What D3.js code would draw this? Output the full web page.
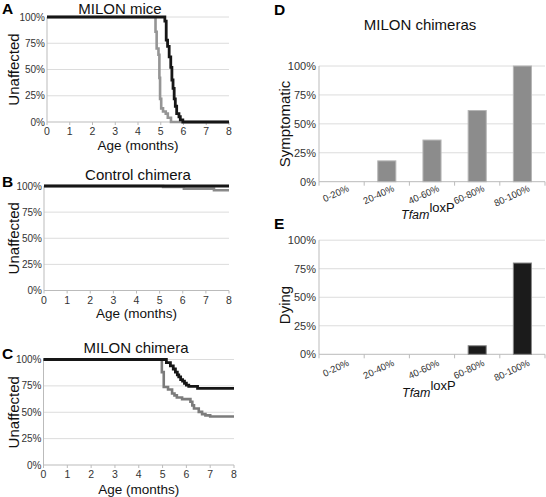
<!DOCTYPE html>
<html><head><meta charset="utf-8">
<script src="https://cdn.jsdelivr.net/npm/d3@7"></script>
<style>
body{margin:0;background:#fff;}
svg{display:block;font-family:"Liberation Sans",Arial,sans-serif;}
</style></head>
<body>
<svg id="chart" width="546" height="497"></svg>
<script>
// ---------- data ----------
const months = [0,1,2,3,4,5,6,7,8];
const pctTicks = [0,0.25,0.5,0.75,1];
const pctLabels = ["0%","25%","50%","75%","100%"];

// Panel A: MILON mice  [month, fraction unaffected]
const miceBlack = [[0,1],[5.18,0.96],[5.24,0.78],[5.3,0.72],[5.37,0.62],[5.44,0.52],[5.49,0.4],[5.54,0.32],[5.59,0.22],[5.64,0.15],[5.7,0.08],[5.8,0.05],[5.86,0.02],[5.97,0],[8,0]];
const miceGrey  = [[0,1],[4.77,0.86],[4.82,0.7],[4.9,0.64],[4.94,0.42],[4.97,0.22],[5.02,0.13],[5.1,0.1],[5.22,0.08],[5.31,0.04],[5.45,0],[8,0]];
// Panel B: Control chimera
const ctrlBlack = [[0,1],[8,1]];
const ctrlGrey  = [[0,1],[5.15,0.99],[6.05,0.975],[7.35,0.96],[8,0.96]];
// Panel C: MILON chimera
const chimBlack = [[0,1],[5.16,0.97],[5.33,0.94],[5.45,0.91],[5.54,0.88],[5.62,0.855],[5.68,0.835],[5.76,0.81],[5.84,0.795],[5.92,0.775],[6.0,0.757],[6.1,0.745],[6.47,0.726],[8,0.726]];
const chimGrey  = [[0,1],[4.97,0.88],[5.05,0.74],[5.23,0.716],[5.4,0.678],[5.5,0.66],[5.6,0.64],[5.82,0.624],[6.17,0.6],[6.25,0.565],[6.32,0.536],[6.52,0.504],[6.66,0.482],[6.8,0.47],[7.0,0.46],[8,0.46]];

// Panels D/E
const categories = ["0-20%","20-40%","40-60%","60-80%","80-100%"];
const symptomatic = [0,18,36,61.5,100];
const dying = [0,0,0,7.5,80];

// ---------- drawing ----------
const svg = d3.select("#chart");
const GRID = "#dcdcdc", TXT = "#333";

function linePanel(o){
  const g = svg.append("g");
  const x = d3.scaleLinear().domain([0,8]).range([o.x0,o.x1]);
  const y = d3.scaleLinear().domain([0,1]).range([o.y0,o.y1]);
  g.selectAll(".grid").data(pctTicks.slice(1)).join("line")
    .attr("x1",o.x0).attr("x2",o.x1).attr("y1",d=>y(d)).attr("y2",d=>y(d))
    .attr("stroke",GRID).attr("stroke-width",1);
  g.append("line").attr("x1",o.x0).attr("x2",o.x0).attr("y1",y(0)).attr("y2",y(1)).attr("stroke","#bbb");
  g.append("line").attr("x1",o.x0).attr("x2",o.x1).attr("y1",y(0)).attr("y2",y(0)).attr("stroke","#bbb");
  g.selectAll(".xt").data(months).join("line")
    .attr("x1",d=>x(d)).attr("x2",d=>x(d)).attr("y1",y(0)).attr("y2",y(0)+3).attr("stroke","#bbb");
  g.selectAll(".yl").data(pctTicks).join("text")
    .attr("x",o.x0-2).attr("y",d=>y(d)).attr("dy","0.35em")
    .attr("text-anchor","end").attr("font-size",10).attr("fill",TXT)
    .text((d,i)=>pctLabels[i]);
  g.selectAll(".xl").data(months).join("text")
    .attr("x",d=>x(d)).attr("y",y(0)+13).attr("text-anchor","middle")
    .attr("font-size",10.5).attr("fill",TXT).text(d=>d);
  const line = d3.line().x(d=>x(d[0])).y(d=>y(d[1])).curve(d3.curveStepAfter);
  g.append("path").datum(o.grey).attr("d",line).attr("fill","none")
    .attr("stroke",o.greyColor).attr("stroke-width",2.6);
  g.append("path").datum(o.black).attr("d",line).attr("fill","none")
    .attr("stroke","#161616").attr("stroke-width",o.bw||2.8);
  g.append("text").attr("x",o.tx).attr("y",o.ty).attr("text-anchor","middle")
    .attr("font-size",15).attr("fill","#111").text(o.title);
  g.append("text").attr("x",(o.x0+o.x1)/2).attr("y",o.ay).attr("text-anchor","middle")
    .attr("font-size",13.5).attr("fill","#111").text("Age (months)");
  g.append("text").attr("transform",`translate(${o.lx},${(o.y0+o.y1)/2}) rotate(-90)`)
    .attr("text-anchor","middle").attr("font-size",15).attr("fill","#111").text("Unaffected");
  g.append("text").attr("x",2).attr("y",o.py).attr("font-size",15.5).attr("font-weight","bold")
    .attr("fill","#000").text(o.letter);
}

linePanel({x0:47,x1:229,y0:122,y1:17,black:miceBlack,grey:miceGrey,greyColor:"#959595",
  title:"MILON mice",tx:120,ty:14,ay:150,lx:19,py:14,letter:"A"});
linePanel({x0:44,x1:229,y0:290.5,y1:186,black:ctrlBlack,grey:ctrlGrey,greyColor:"#8a8a8a",bw:3.2,
  title:"Control chimera",tx:138,ty:180,ay:318,lx:19,py:187,letter:"B"});
linePanel({x0:43.5,x1:234,y0:465,y1:359.5,black:chimBlack,grey:chimGrey,greyColor:"#7c7c7c",
  title:"MILON chimera",tx:136,ty:353,ay:494,lx:19,py:359,letter:"C"});

function barPanel(o){
  const g = svg.append("g");
  const x = d3.scaleBand().domain(categories).range([o.x0,o.x1]).paddingInner(0.6).paddingOuter(0.3);
  const y = d3.scaleLinear().domain([0,100]).range([o.y0,o.y1]);
  g.selectAll(".grid").data([25,50,75,100]).join("line")
    .attr("x1",o.x0).attr("x2",o.x1).attr("y1",d=>y(d)).attr("y2",d=>y(d))
    .attr("stroke",GRID);
  g.append("line").attr("x1",o.x0).attr("x2",o.x0).attr("y1",y(0)).attr("y2",y(100)).attr("stroke","#bbb");
  g.append("line").attr("x1",o.x0).attr("x2",o.x1).attr("y1",y(0)).attr("y2",y(0)).attr("stroke","#bbb");
  const step = x.step();
  g.selectAll(".tk").data(d3.range(categories.length+1)).join("line")
    .attr("x1",i=>o.x0+i*step).attr("x2",i=>o.x0+i*step).attr("y1",y(0)).attr("y2",y(0)+4).attr("stroke","#bbb");
  g.selectAll(".bar").data(o.values).join("rect")
    .attr("x",(d,i)=>x(categories[i])).attr("width",x.bandwidth())
    .attr("y",d=>y(d)).attr("height",d=>y(0)-y(d))
    .attr("fill",o.color).attr("stroke",o.edge).attr("stroke-width",1)
    .attr("display",d=>d>0?null:"none");
  g.selectAll(".yl").data([0,25,50,75,100]).join("text")
    .attr("x",o.x0-3).attr("y",d=>y(d)).attr("dy","0.35em").attr("text-anchor","end")
    .attr("font-size",11).attr("fill",TXT).text(d=>d+"%");
  g.selectAll(".xl").data(categories).join("text")
    .attr("transform",d=>`translate(${x(d)+x.bandwidth()/2+8},${y(0)+o.lo}) rotate(-25)`)
    .attr("text-anchor","end").attr("font-size",9.5).attr("fill",TXT).text(d=>d);
  const t = g.append("text").attr("x",o.tfx).attr("y",o.tfy).attr("font-size",12.5).attr("fill","#111");
  t.append("tspan").attr("font-style","italic").text("Tfam");
  t.append("tspan").attr("dy",-7).attr("font-size",13).text("loxP");
  g.append("text").attr("transform",`translate(${o.lx},${o.ly}) rotate(-90)`)
    .attr("text-anchor","middle").attr("font-size",15).attr("fill","#111").text(o.ylabel);
  g.append("text").attr("x",o.px).attr("y",o.py).attr("font-size",15.5).attr("font-weight","bold").text(o.letter);
  if(o.title) g.append("text").attr("x",420).attr("y",30).attr("text-anchor","middle")
    .attr("font-size",15).attr("fill","#111").text(o.title);
}

barPanel({x0:319,x1:545,y0:181.7,y1:66,values:symptomatic,color:"#8c8c8c",edge:"#b5b5b5",lo:9,
  ylabel:"Symptomatic",lx:290,ly:124,tfx:401,tfy:219,letter:"D",px:274,py:15,title:"MILON chimeras"});
barPanel({x0:319,x1:545,y0:354.3,y1:240.2,values:dying,color:"#1b1b1b",edge:"#888",lo:11,
  ylabel:"Dying",lx:290,ly:305,tfx:402,tfy:397,letter:"E",px:274,py:229});
</script>
</body></html>
